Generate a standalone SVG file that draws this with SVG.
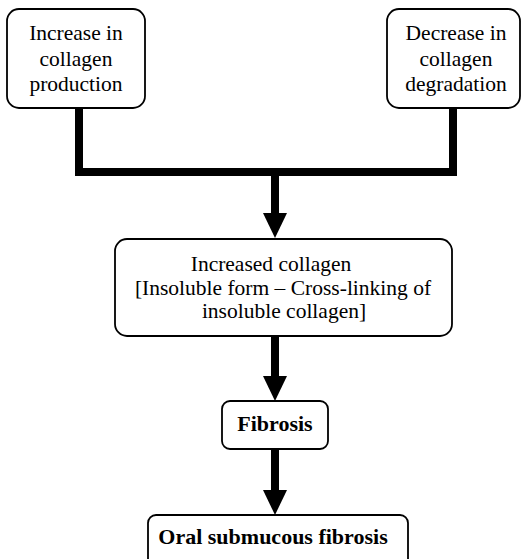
<svg xmlns="http://www.w3.org/2000/svg" width="522" height="559" viewBox="0 0 522 559">
<style>
.box{fill:#fff;stroke:#000;stroke-width:1.8}
text{font-family:'Liberation Serif','Times New Roman','DejaVu Serif',serif;font-size:21.5px;fill:#000;text-anchor:middle}
.b{font-weight:bold;font-size:22px}
.c{fill:none;stroke:#000;stroke-width:8;stroke-linejoin:miter}
</style>
<defs>
<marker id="ah" markerUnits="userSpaceOnUse" markerWidth="26" markerHeight="24" refX="0" refY="12" orient="auto" overflow="visible">
<path d="M0,0 L25,12 L0,24 Z" fill="#000"/>
</marker>
</defs>
<rect width="522" height="559" fill="#fff"/>
<g id="connectors">
<path class="c" d="M79,108 V172 H453 V108"/>
<path class="c" d="M275,172 V213" marker-end="url(#ah)"/>
<path class="c" d="M275,336 V376" marker-end="url(#ah)"/>
<path class="c" d="M275,449 V490" marker-end="url(#ah)"/>
</g>
<g id="increase" font-family="Liberation Serif, serif">
<rect class="box" x="7" y="9" width="138" height="99" rx="12"/>
<text x="76" y="40">Increase in</text>
<text x="76" y="66">collagen</text>
<text x="76" y="91">production</text>
</g>
<g id="decrease" font-family="Liberation Serif, serif">
<rect class="box" x="387" y="9" width="133" height="99" rx="12"/>
<text x="456" y="40">Decrease in</text>
<text x="456" y="66">collagen</text>
<text x="456" y="91">degradation</text>
</g>
<g id="increased" font-family="Liberation Serif, serif">
<rect class="box" x="115" y="239" width="337" height="97" rx="12"/>
<text x="271" y="271">Increased collagen</text>
<text x="283" y="295">[Insoluble form – Cross-linking of</text>
<text x="284" y="318">insoluble collagen]</text>
</g>
<g id="fibrosis" font-family="Liberation Serif, serif">
<rect class="box" x="222" y="401" width="106" height="48" rx="8"/>
<text class="b" x="275" y="431">Fibrosis</text>
</g>
<g id="osf" font-family="Liberation Serif, serif">
<rect class="box" x="148" y="515" width="260" height="60" rx="8"/>
<text class="b" x="273" y="544">Oral submucous fibrosis</text>
</g>
</svg>
